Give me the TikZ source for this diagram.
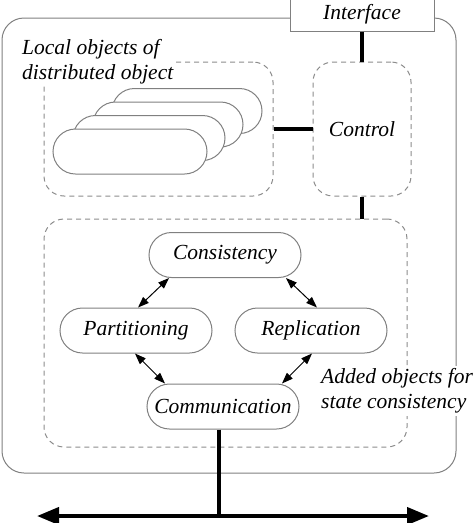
\documentclass[tikz,border=0pt]{standalone}
\usepackage{fontspec}
\setmainfont{Liberation Serif}
\usepackage{tikz}
\usetikzlibrary{arrows.meta, positioning, shapes.misc, calc}

\tikzset{
    txt/.style={font=\itshape\fontsize{21.5}{25}\selectfont},
    capsule/.style={rounded rectangle, draw=black!50, line width=1pt, fill=white,
        minimum width=152pt, minimum height=45pt, inner sep=0pt, txt},
    dashbox/.style={draw=black!45, line width=1pt, dash pattern=on 5pt off 4pt,
        rounded corners=20pt, inner sep=0pt},
    thickline/.style={line width=4pt},
    duplex/.style={line width=1pt, {Triangle[length=11pt,width=8pt]}-{Triangle[length=11pt,width=8pt]}},
}

\begin{document}
\begin{tikzpicture}[x=1pt, y=-1pt]
    \useasboundingbox (0, 0) rectangle (474, 523);

    % Outer object and its interface
    \draw[black!50, line width=1pt, rounded corners=22pt] (2, 18) rectangle (456, 473);
    \node[draw=black!50, line width=1pt, fill=white, minimum width=144pt, minimum height=34pt, txt] (iface) at (362, 14) {Interface};

    % Local objects
    \node[dashbox, minimum width=229pt, minimum height=134pt] (local) at (158.5, 129) {};
    \node[txt, fill=white, align=left, anchor=north west, inner sep=2pt] (localtxt) at (20, 37) {Local objects of\\distributed object};
    \node[capsule, minimum width=150pt] (obj4) at (187, 111) {};
    \node[capsule, minimum width=150pt] (obj3) at (168, 124.5) {};
    \node[capsule, minimum width=152pt] (obj2) at (149, 138) {};
    \node[capsule, minimum width=154pt] (obj1) at (130, 151.5) {};

    % Control
    \node[dashbox, minimum width=98pt, minimum height=134pt, txt] (control) at (362, 129) {Control};

    % Added objects
    \node[dashbox, minimum width=363pt, minimum height=228pt] (added) at (225.5, 333) {};
    \node[txt, fill=white, align=left, anchor=west, inner sep=3pt] (addedtxt) at (318, 391) {Added objects for\\state consistency};
    \node[capsule] (cons) at (225, 255) {Consistency};
    \node[capsule] (part) at (136, 330.5) {Partitioning};
    \node[capsule] (repl) at (311, 330.5) {Replication};
    \node[capsule] (comm) at (223, 406.5) {Communication};

    % Links
    \draw[thickline] (iface.south) -- (control.north);
    \draw[thickline] (local.east) -- (control.west);
    \draw[thickline] (control.south) -- (added.north -| control.south);
    \draw[duplex] ($(cons.south)+(-56,0)$) -- ($(part.north)+(2,0)$);
    \draw[duplex] ($(cons.south)+(61,0)$) -- ($(repl.north)+(6,0)$);
    \draw[duplex] ($(part.south)+(-1,0)$) -- ($(comm.north)+(-58,0)$);
    \draw[duplex] ($(repl.south)+(1,0)$) -- ($(comm.north)+(59,0)$);

    % Bus
    \coordinate (busL) at (37, 516);
    \coordinate (busR) at (429, 516);
    \coordinate (tap) at (219, 516);
    \draw[thickline] (comm.south -| tap) -- (tap);
    \draw[thickline, {Triangle[length=22pt,width=17pt]}-{Triangle[length=22pt,width=17pt]}] (busL) -- (busR);
\end{tikzpicture}
\end{document}
